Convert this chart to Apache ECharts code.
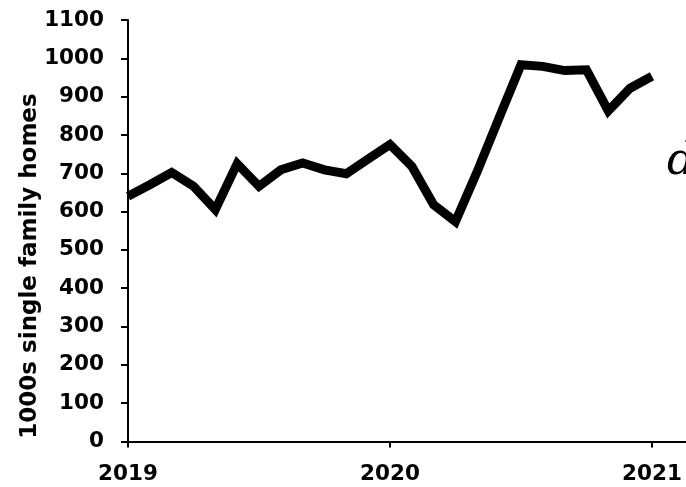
<!DOCTYPE html>
<html>
<head>
<meta charset="utf-8">
<script src="https://cdn.jsdelivr.net/npm/echarts@6/dist/echarts.min.js"></script>
<style>html,body{margin:0;padding:0;background:#fff}#c{width:686px;height:487px}</style>
</head>
<body>
<div id="c"></div>
<script>
// Months since Jan 2019 (0 = Jan 2019, 24 = Jan 2021)
const months = [0,1,2,3,4,5,6,7,8,9,10,11,12,13,14,15,16,17,18,19,20,21,22,23,24];
const homes = [640,670,702,666,605,725,666,709,727,709,699,737,775,718,618,574,705,845,983,979,968,970,863,922,953];
const yearTickValues = [0,12,24];
const yearLabels = ['2019','2020','2021'];
const yTickValues = [0,100,200,300,400,500,600,700,800,900,1000,1100];
const yName = '1000s single family homes';

const chart = echarts.init(document.getElementById('c'), null, {renderer:'canvas'});
const font = '"DejaVu Sans", sans-serif';
chart.setOption({
  animation:false,
  backgroundColor:'#fff',
  grid:{left:128,top:20,right:0,bottom:45.5,containLabel:false},
  xAxis:{
    type:'value',min:0,max:25.56,interval:12,
    axisLine:{show:true,lineStyle:{color:'#000',width:2}},
    axisTick:{show:true,length:6,customValues:yearTickValues,lineStyle:{color:'#000',width:2}},
    splitLine:{show:false},
    axisLabel:{color:'#000',fontFamily:font,fontWeight:'bold',fontSize:21.5,margin:22,
      customValues:yearTickValues,
      formatter:v=>{const i=yearTickValues.indexOf(v);return i>=0?yearLabels[i]:'';}}
  },
  yAxis:{
    type:'value',min:yTickValues[0],max:yTickValues[yTickValues.length-1],interval:100,
    axisLine:{show:true,lineStyle:{color:'#000',width:2}},
    axisTick:{show:true,length:7,lineStyle:{color:'#000',width:2}},
    splitLine:{show:false},
    axisLabel:{color:'#000',fontFamily:font,fontWeight:'bold',fontSize:21.5,margin:24,formatter:v=>String(v)},
  },
  graphic:[
    {type:'text',x:30,y:266,rotation:Math.PI/2,
     style:{text:yName,fill:'#000',font:'bold 23px "DejaVu Sans", sans-serif',align:'center',verticalAlign:'middle'}},
    {type:'text',x:681,y:163,
     style:{text:'d',fill:'#000',font:'italic 44px "DejaVu Serif", serif',align:'center',verticalAlign:'middle'}}
  ],
  series:[{
    type:'line',data:months.map((m,i)=>[m,homes[i]]),
    showSymbol:false,
    lineStyle:{color:'#000',width:9,join:'miter'},
    itemStyle:{color:'#000'}
  }]
});
</script>
</body>
</html>
